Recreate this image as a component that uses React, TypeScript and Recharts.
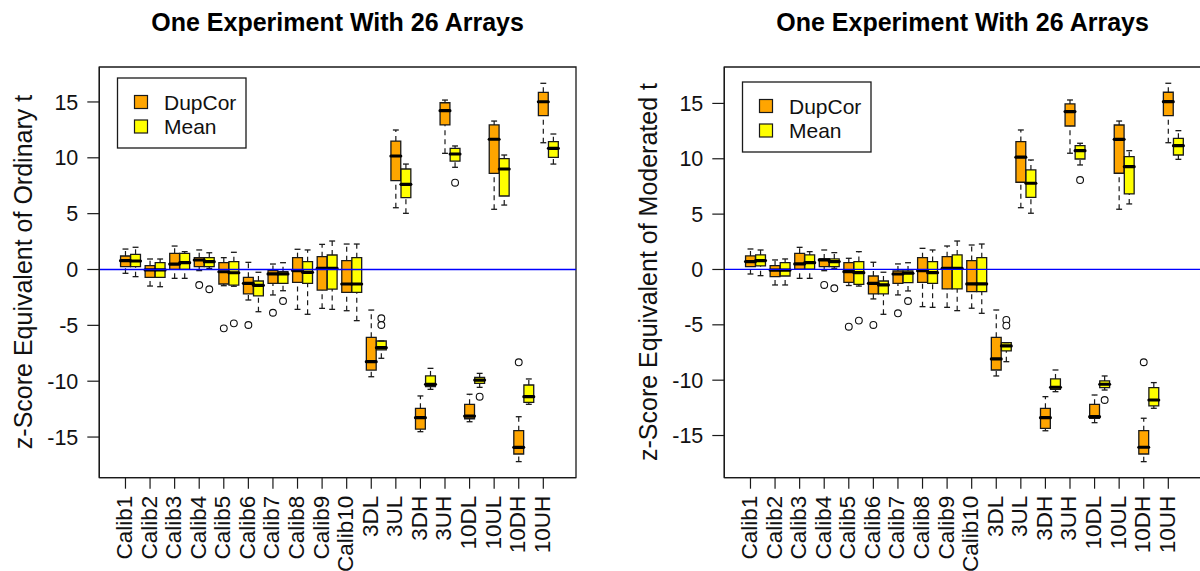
import React from 'react';
import { ComposedChart, XAxis, YAxis, ReferenceArea, ReferenceLine, Scatter } from 'recharts';

const FONT = '"Liberation Sans", Arial, Helvetica, sans-serif';

const categories = ['Calib1', 'Calib2', 'Calib3', 'Calib4', 'Calib5', 'Calib6', 'Calib7', 'Calib8', 'Calib9', 'Calib10', '3DL', '3UL', '3DH', '3UH', '10DL', '10UL', '10DH', '10UH'];
const yTicks = [-15, -10, -5, 0, 5, 10, 15];
const seriesNames = ['DupCor', 'Mean'];

type Five = [number, number, number, number, number]; // [lower whisker, Q1, median, Q3, upper whisker]

// Panel 1: z-Score Equivalent of Ordinary t
const ordinaryDupCor: Five[] = [
  [-0.34, 0.25, 0.79, 1.21, 1.83],
  [-1.48, -0.7, -0.04, 0.34, 0.94],
  [-0.79, 0.02, 0.49, 1.45, 2.1],
  [-0.1, 0.25, 0.85, 1.06, 1.75],
  [-1.45, -1.3, -0.2, 0.61, 1.06],
  [-2.73, -2.19, -1.24, -0.7, 0.64],
  [-2.28, -1.24, -0.4, -0.1, 0.49],
  [-3.57, -1.15, -0.1, 1.06, 1.81],
  [-3.48, -1.84, 0.1, 1.15, 2.25],
  [-3.69, -2.04, -1.3, 0.79, 2.28],
  [-9.6, -9.0, -8.25, -6.07, -3.63],
  [5.53, 7.95, 10.16, 11.5, 12.49],
  [-14.52, -14.3, -13.27, -12.43, -11.32],
  [10.4, 12.94, 14.22, 14.93, 15.17],
  [-13.63, -13.36, -13.12, -12.07, -11.17],
  [5.39, 8.61, 11.66, 12.94, 13.29],
  [-17.2, -16.52, -15.92, -14.43, -13.18],
  [11.35, 13.77, 15.02, 15.86, 16.67],
];
const ordinaryMean: Five[] = [
  [-0.64, 0.25, 0.76, 1.36, 1.99],
  [-1.54, -0.7, -0.04, 0.61, 0.94],
  [-0.79, 0.02, 0.61, 1.45, 1.6],
  [0.1, 0.25, 0.7, 1.06, 1.5],
  [-1.5, -1.39, -0.29, 0.7, 1.54],
  [-3.78, -2.37, -1.42, -1.03, -0.25],
  [-1.9, -1.24, -0.4, -0.2, 0.61],
  [-4.01, -1.24, -0.25, 0.7, 1.75],
  [-3.57, -1.75, 0.1, 1.3, 2.55],
  [-4.58, -2.04, -1.3, 1.06, 2.28],
  [-7.95, -7.2, -7.0, -6.4, -6.4],
  [5.03, 6.43, 7.63, 9.0, 9.44],
  [-10.73, -10.49, -10.28, -9.53, -8.85],
  [9.15, 9.71, 10.34, 10.85, 11.06],
  [-10.55, -10.19, -9.9, -9.65, -9.3],
  [5.77, 6.58, 9.0, 9.92, 10.25],
  [-12.07, -11.89, -11.39, -10.34, -9.8],
  [9.44, 10.04, 10.85, 11.44, 12.13],
];
// outliers: [category index, series (0 DupCor, 1 Mean), value]
const ordinaryOutliers: [number, number, number][] = [
  [3, 0, -1.39], [4, 0, -5.27], [5, 0, -4.97], [6, 0, -3.87], [16, 0, -8.31],
  [3, 1, -1.77], [4, 1, -4.82], [6, 1, -2.82], [10, 1, -4.37], [10, 1, -4.97], [13, 1, 7.77], [14, 1, -11.39],
];

// Panel 2: z-Score Equivalent of Moderated t
const moderatedDupCor: Five[] = [
  [-0.41, 0.25, 0.71, 1.22, 1.85],
  [-1.4, -0.65, -0.05, 0.34, 0.86],
  [-0.8, 0.02, 0.5, 1.46, 2.0],
  [-0.11, 0.25, 0.86, 0.95, 1.76],
  [-1.45, -1.16, -0.2, 0.61, 1.01],
  [-2.66, -2.21, -1.25, -0.59, 0.65],
  [-2.3, -1.25, -0.41, -0.14, 0.5],
  [-3.36, -1.16, -0.11, 1.07, 1.91],
  [-3.42, -1.76, 0.11, 1.16, 2.12],
  [-3.5, -2.0, -1.31, 0.8, 2.21],
  [-9.62, -9.08, -8.08, -6.13, -3.66],
  [5.58, 7.88, 10.14, 11.55, 12.6],
  [-14.57, -14.35, -13.39, -12.54, -11.49],
  [10.5, 12.96, 14.26, 14.95, 15.31],
  [-13.84, -13.44, -13.3, -12.18, -11.34],
  [5.44, 8.69, 11.76, 13.05, 13.41],
  [-17.36, -16.67, -16.06, -14.56, -13.44],
  [11.45, 13.89, 15.16, 16.01, 16.82],
];
const moderatedMean: Five[] = [
  [-0.56, 0.32, 0.8, 1.31, 1.76],
  [-1.4, -0.59, -0.05, 0.61, 0.95],
  [-0.8, 0.02, 0.61, 1.31, 1.61],
  [0.11, 0.25, 0.71, 0.95, 1.52],
  [-1.5, -1.34, -0.29, 0.71, 1.61],
  [-4.05, -2.21, -1.4, -1.04, -0.25],
  [-1.94, -1.19, -0.34, -0.14, 0.61],
  [-3.42, -1.25, -0.29, 0.71, 1.76],
  [-3.72, -1.76, 0.11, 1.31, 2.57],
  [-3.96, -2.0, -1.31, 1.07, 2.3],
  [-8.33, -7.36, -6.91, -6.61, -6.61],
  [5.08, 6.52, 7.79, 8.99, 9.89],
  [-11.04, -10.82, -10.64, -9.89, -9.08],
  [9.44, 9.98, 10.73, 11.18, 11.4],
  [-10.89, -10.68, -10.37, -10.07, -9.62],
  [5.92, 6.82, 9.29, 10.19, 10.73],
  [-12.54, -12.33, -11.79, -10.68, -10.22],
  [9.95, 10.34, 11.18, 11.85, 12.54],
];
const moderatedOutliers: [number, number, number][] = [
  [3, 0, -1.4], [4, 0, -5.17], [5, 0, -5.01], [6, 0, -3.96], [16, 0, -8.38],
  [3, 1, -1.7], [4, 1, -4.62], [6, 1, -2.85], [10, 1, -4.56], [10, 1, -5.07], [13, 1, 8.08], [14, 1, -11.79],
];

const COLORS = ['#FFA500', '#FFFF00'];
const OFFSETS = [0, 0.41];
const BOX_HALF = 0.2;
const CAP_HALF = 0.12;
const X_DOMAIN: [number, number] = [-1.065, 18.33];
const EDGE = '#1a1a1a';

function boxElements(stats: Five[], series: number, prefix: string) {
  const lines: React.ReactNode[] = [];
  const areas: React.ReactNode[] = [];
  const meds: React.ReactNode[] = [];
  stats.forEach(([lo, q1, med, q3, hi], i) => {
    const c = i + OFFSETS[series];
    const k = `${prefix}-${series}-${i}`;
    if (hi > q3) {
      lines.push(<ReferenceLine key={k + 'wu'} segment={[{ x: c, y: q3 }, { x: c, y: hi }]} stroke={EDGE} strokeWidth={1.2} strokeDasharray="5 4" ifOverflow="visible" />);
    }
    if (lo < q1) {
      lines.push(<ReferenceLine key={k + 'wl'} segment={[{ x: c, y: lo }, { x: c, y: q1 }]} stroke={EDGE} strokeWidth={1.2} strokeDasharray="5 4" ifOverflow="visible" />);
    }
    lines.push(<ReferenceLine key={k + 'cu'} segment={[{ x: c - CAP_HALF, y: hi }, { x: c + CAP_HALF, y: hi }]} stroke={EDGE} strokeWidth={1.3} ifOverflow="visible" />);
    lines.push(<ReferenceLine key={k + 'cl'} segment={[{ x: c - CAP_HALF, y: lo }, { x: c + CAP_HALF, y: lo }]} stroke={EDGE} strokeWidth={1.3} ifOverflow="visible" />);
    areas.push(<ReferenceArea key={k + 'b'} x1={c - BOX_HALF} x2={c + BOX_HALF} y1={q1} y2={q3} fill={COLORS[series]} fillOpacity={1} stroke={EDGE} strokeWidth={1.3} ifOverflow="visible" />);
    meds.push(<ReferenceLine key={k + 'm'} segment={[{ x: c - BOX_HALF, y: med }, { x: c + BOX_HALF, y: med }]} stroke="#000" strokeWidth={3.2} strokeLinecap="round" ifOverflow="visible" />);
  });
  return [...lines, ...areas, ...meds];
}

const XTick = (props: any) => {
  const { x, y, payload } = props;
  const label = categories[payload.value];
  if (label === undefined) return null;
  return (
    <text x={0} y={0} transform={`translate(${x - 1},${y}) rotate(-90)`} textAnchor="end" dominantBaseline="central" fontSize={22.5} fontFamily={FONT} fill="#111">
      {label}
    </text>
  );
};

const Outlier = (props: any) => {
  const { cx, cy } = props;
  if (cx == null || cy == null) return null;
  return <circle cx={cx} cy={cy} r={3.4} fill="#fff" stroke="#111" strokeWidth={1.1} />;
};

function Panel({ dup, mean, outliers, yDomain, id }: { dup: Five[]; mean: Five[]; outliers: [number, number, number][]; yDomain: [number, number]; id: string }) {
  const outlierData = outliers.map(([cat, s, v]) => ({ x: cat + OFFSETS[s], y: v }));
  return (
    <ComposedChart width={625} height={571} margin={{ top: 67, right: 49, bottom: 0, left: 0 }}>
      <XAxis
        type="number"
        dataKey="x"
        domain={X_DOMAIN}
        allowDataOverflow
        ticks={categories.map((_, i) => i)}
        interval={0}
        tick={<XTick />}
        tickSize={11}
        tickMargin={7}
        height={93.3}
        axisLine={{ stroke: EDGE, strokeWidth: 1.3 }}
        tickLine={{ stroke: EDGE, strokeWidth: 1.2 }}
      />
      <YAxis
        type="number"
        dataKey="y"
        domain={yDomain}
        allowDataOverflow
        ticks={yTicks}
        interval={0}
        width={99.3}
        tickSize={12}
        tickMargin={9}
        tick={{ fontSize: 21.5, fontFamily: FONT, fill: '#111' }}
        axisLine={{ stroke: EDGE, strokeWidth: 1.3 }}
        tickLine={{ stroke: EDGE, strokeWidth: 1.2 }}
      />
      <ReferenceArea x1={X_DOMAIN[0]} x2={X_DOMAIN[1]} y1={yDomain[0]} y2={yDomain[1]} fill="none" stroke={EDGE} strokeWidth={1.3} ifOverflow="visible" />
      {boxElements(dup, 0, id)}
      {boxElements(mean, 1, id)}
      <ReferenceLine key={id + '-zero'} segment={[{ x: X_DOMAIN[0], y: 0 }, { x: X_DOMAIN[1], y: 0 }]} stroke="#0000FF" strokeWidth={1.3} ifOverflow="visible" />
      <Scatter data={outlierData} dataKey="y" shape={<Outlier />} isAnimationActive={false} />
    </ComposedChart>
  );
}

function Legend({ dx, dy }: { dx: number; dy: number }) {
  return (
    <g transform={`translate(${dx},${dy})`}>
      <rect x={117.5} y={78} width={128.5} height={70} fill="#fff" stroke={EDGE} strokeWidth={1.3} />
      {seriesNames.map((name, i) => (
        <g key={name}>
          <rect x={134.5} y={95.5 + i * 24.5} width={13} height={13} fill={COLORS[i]} stroke={EDGE} strokeWidth={1.2} />
          <text x={164} y={109.8 + i * 24.5} fontSize={21} fontFamily={FONT} fill="#111">{name}</text>
        </g>
      ))}
    </g>
  );
}

export default function App() {
  return (
    <div style={{ position: 'absolute', left: 0, top: 0, width: 1200, height: 571, overflow: 'hidden', background: '#fff' }}>
      <div style={{ position: 'absolute', left: 0, top: 0 }}>
        <Panel dup={ordinaryDupCor} mean={ordinaryMean} outliers={ordinaryOutliers} yDomain={[-18.64, 18.13]} id="ord" />
      </div>
      <div style={{ position: 'absolute', left: 625, top: 0 }}>
        <Panel dup={moderatedDupCor} mean={moderatedMean} outliers={moderatedOutliers} yDomain={[-18.81, 18.29]} id="mod" />
      </div>
      <svg width={1200} height={571} style={{ position: 'absolute', left: 0, top: 0, pointerEvents: 'none' }}>
        <text x={337.6} y={30.5} textAnchor="middle" fontSize={25} fontWeight="bold" fontFamily={FONT} fill="#000">One Experiment With 26 Arrays</text>
        <text x={962.6} y={30.5} textAnchor="middle" fontSize={25} fontWeight="bold" fontFamily={FONT} fill="#000">One Experiment With 26 Arrays</text>
        <text transform="translate(32,272) rotate(-90)" textAnchor="middle" fontSize={25} fontFamily={FONT} fill="#111">z-Score Equivalent of Ordinary t</text>
        <text transform="translate(657,272) rotate(-90)" textAnchor="middle" fontSize={25} fontFamily={FONT} fill="#111">z-Score Equivalent of Moderated t</text>
        <Legend dx={0} dy={0} />
        <Legend dx={625} dy={4} />
      </svg>
    </div>
  );
}
